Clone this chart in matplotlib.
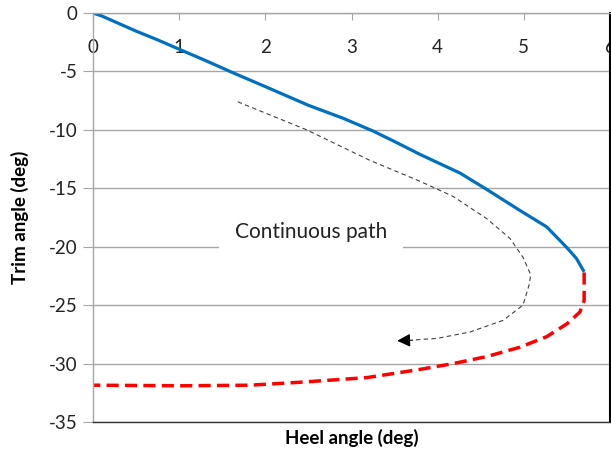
import matplotlib
matplotlib.use('Agg')
import matplotlib.pyplot as plt

plt.rcParams['font.family'] = ['Lato', 'DejaVu Sans']
plt.rcParams['axes.unicode_minus'] = False

# Heel / trim path
heel_solid = [0, 0.1, 0.3, 0.5, 0.75, 1.0, 1.3, 1.62, 2.0, 2.5, 2.9, 3.25, 3.5,
              3.795, 4.26, 4.57, 4.955, 5.265, 5.497, 5.61, 5.70]
trim_solid = [0, -0.25, -0.9, -1.55, -2.3, -3.1, -4.05, -5.1, -6.3, -7.9, -9.0,
              -10.1, -11.0, -12.1, -13.7, -15.1, -16.9, -18.3, -20.06, -21.0, -22.15]

heel_dash = [5.70, 5.70, 5.65, 5.50, 5.265, 4.955, 4.57, 4.18, 3.795, 3.18,
             2.40, 1.82, 1.05, 0]
trim_dash = [-22.2, -24.6, -25.6, -26.6, -27.7, -28.6, -29.4, -30.0, -30.5,
             -31.2, -31.6, -31.85, -31.9, -31.85]

# hand-drawn arrow "continuous path"
heel_arrow = [1.68, 2.48, 3.21, 3.795, 4.18, 4.57, 4.84, 4.99, 5.08, 5.06, 4.99,
              4.76, 4.375, 3.99, 3.795, 3.71]
trim_arrow = [-7.6, -10.0, -12.6, -14.4, -15.7, -17.6, -19.3, -20.9, -22.4, -23.3,
              -25.0, -26.3, -27.3, -27.85, -27.94, -28.0]
arrow_tip = (3.53, -28.05)

x_ticks = [0, 1, 2, 3, 4, 5, 6]
y_ticks = [0, -5, -10, -15, -20, -25, -30, -35]

fig = plt.figure(figsize=(6.11, 4.54), dpi=100)
ax = fig.add_axes([93 / 611, 32 / 454, 517 / 611, 409 / 454])

ax.set_xlim(0, 6)
ax.set_ylim(-35, 0)
ax.set_xticks(x_ticks)
ax.set_yticks(y_ticks)

grid_col = '#a6a6a6'
ax.yaxis.grid(True, color=grid_col, lw=1.0)
ax.set_axisbelow(True)

for s in ['top', 'left']:
    ax.spines[s].set_color(grid_col)
    ax.spines[s].set_linewidth(1.0)
ax.spines['bottom'].set_color('#333333')
ax.spines['bottom'].set_linewidth(1.0)
ax.spines['right'].set_color('black')
ax.spines['right'].set_linewidth(1.5)

ax.xaxis.set_ticks_position('top')
ax.tick_params(axis='x', direction='in', length=5, color=grid_col,
               labelsize=13.5, labelcolor='#222222', pad=-31)
ax.tick_params(axis='y', direction='out', length=7, color=grid_col,
               labelsize=13.5, labelcolor='#222222', pad=4)

ax.plot(heel_solid, trim_solid, color='#0070C0', lw=2.3, solid_capstyle='butt')
ax.plot(heel_dash, trim_dash, color='#FF0000', lw=2.5, dashes=(3.5, 1.8))
ax.plot(heel_arrow, trim_arrow, color='#404040', lw=0.8, dashes=(4, 3))
ax.annotate('', xy=arrow_tip, xytext=(heel_arrow[-1], trim_arrow[-1]),
            arrowprops=dict(arrowstyle='-|>', color='black', lw=0.8,
                            mutation_scale=20, shrinkA=0, shrinkB=0))

ax.text(2.53, -18.75, 'Continuous path', fontsize=15, color='#222222',
        ha='center', va='center',
        bbox=dict(boxstyle='square,pad=0.75', fc='white', ec='none'))

ax.xaxis.set_label_position('bottom')
ax.set_xlabel('Heel angle (deg)', fontsize=13.5, fontweight='bold', labelpad=5)
ax.set_ylabel('Trim angle (deg)', fontsize=13.5, fontweight='bold', labelpad=14)

fig.savefig('out.png', dpi=100, facecolor='white')
